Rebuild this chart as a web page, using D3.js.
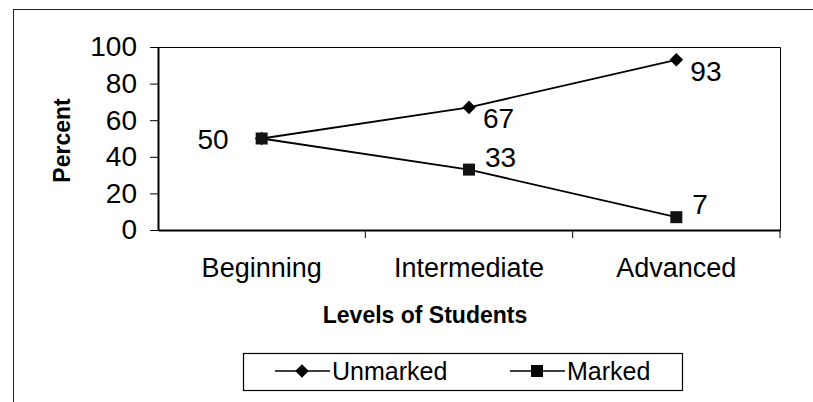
<!DOCTYPE html>
<html>
<head>
<meta charset="utf-8">
<script src="https://cdnjs.cloudflare.com/ajax/libs/d3/7.8.5/d3.min.js"></script>
<style>
  body { margin: 0; background: #fff; }
  text { font-family: "Liberation Sans", Arial, sans-serif; fill: #000; }
</style>
</head>
<body>
<div id="chart"></div>
<script>
var levels = ["Beginning", "Intermediate", "Advanced"];
var unmarked = [50, 67, 93];
var marked = [50, 33, 7];
var yTicks = [0, 20, 40, 60, 80, 100];
var seriesNames = ["Unmarked", "Marked"];

var W = 813, H = 402;
var svg = d3.select("#chart").append("svg")
    .attr("width", W)
    .attr("height", H);

// outer frame (only top and left edges show)
svg.append("line").attr("x1", 13).attr("x2", W).attr("y1", 9.5).attr("y2", 9.5)
    .attr("stroke", "#222").attr("stroke-width", 1);
svg.append("line").attr("x1", 13.5).attr("x2", 13.5).attr("y1", 9).attr("y2", H)
    .attr("stroke", "#222").attr("stroke-width", 1);

var pLeft = 158, pRight = 780, pTop = 47, pBottom = 230;

var x = d3.scaleBand().domain(levels).range([pLeft, pRight]);
var y = d3.scaleLinear().domain([0, 100]).range([pBottom, pTop]);

// plot area border (top, right)
svg.append("path")
    .attr("d", "M" + pLeft + "," + (pTop + 0.5) + "H" + (pRight + 0.5) + "V" + pBottom)
    .attr("fill", "none").attr("stroke", "#000").attr("stroke-width", 1);

// y axis
var yAxis = svg.append("g")
    .attr("transform", "translate(" + pLeft + ",0)")
    .call(d3.axisLeft(y).tickValues(yTicks).tickSize(8).tickPadding(13).tickSizeOuter(0));
yAxis.select(".domain").attr("stroke-width", 2);
yAxis.selectAll("text").attr("font-size", "28px").attr("fill", "#000")
    .attr("font-family", "Liberation Sans, Arial, sans-serif");

// x axis
var xAxis = svg.append("g")
    .attr("transform", "translate(0," + pBottom + ")")
    .call(d3.axisBottom(x).tickSize(0).tickPadding(28).tickSizeOuter(0));
xAxis.select(".domain").attr("stroke-width", 2);
xAxis.selectAll("text").attr("font-size", "27px").attr("fill", "#000")
    .attr("font-family", "Liberation Sans, Arial, sans-serif");
// category boundary ticks
svg.selectAll("line.cat-tick")
    .data(levels.slice(1).concat(["end"]))
    .enter().append("line")
    .attr("class", "cat-tick")
    .attr("x1", function(d, i) { return pLeft + (i + 1) * x.step(); })
    .attr("x2", function(d, i) { return pLeft + (i + 1) * x.step(); })
    .attr("y1", pBottom)
    .attr("y2", pBottom + 8)
    .attr("stroke", "#000");

// axis titles
svg.append("text")
    .attr("transform", "translate(70," + ((pTop + pBottom) / 2 + 2) + ") rotate(-90)")
    .attr("text-anchor", "middle")
    .attr("font-size", "23px")
    .attr("font-weight", "bold")
    .text("Percent");

svg.append("text")
    .attr("x", 425).attr("y", 323)
    .attr("text-anchor", "middle")
    .attr("font-size", "23px")
    .attr("font-weight", "bold")
    .text("Levels of Students");

var cx = function(i) { return x(levels[i]) + x.bandwidth() / 2; };
var line = d3.line()
    .x(function(d, i) { return cx(i); })
    .y(function(d) { return y(d); });

[unmarked, marked].forEach(function(s) {
    svg.append("path")
        .datum(s)
        .attr("d", line)
        .attr("fill", "none")
        .attr("stroke", "#000")
        .attr("stroke-width", 1.8);
});

// diamond = square turned 45 degrees (wider than d3's symbolDiamond)
var diamond = d3.symbol().type(d3.symbolSquare).size(92);
var square = d3.symbol().type(d3.symbolSquare).size(144);

svg.selectAll("path.um")
    .data(unmarked)
    .enter().append("path")
    .attr("class", "um")
    .attr("d", diamond)
    .attr("transform", function(d, i) { return "translate(" + cx(i) + "," + y(d) + ") rotate(45)"; })
    .attr("fill", "#000");

svg.selectAll("path.mk")
    .data(marked)
    .enter().append("path")
    .attr("class", "mk")
    .attr("d", square)
    .attr("transform", function(d, i) { return "translate(" + cx(i) + "," + y(d) + ")"; })
    .attr("fill", "#111");

// data labels
svg.append("text")
    .attr("x", cx(0) - 33).attr("y", y(marked[0]) + 10)
    .attr("text-anchor", "end")
    .attr("font-size", "28px")
    .text(marked[0]);

svg.selectAll("text.ul")
    .data(unmarked.slice(1))
    .enter().append("text")
    .attr("class", "ul")
    .attr("x", function(d, i) { return cx(i + 1) + 14; })
    .attr("y", function(d) { return y(d) + 21; })
    .attr("font-size", "28px")
    .text(function(d) { return d; });

svg.selectAll("text.ml")
    .data(marked.slice(1))
    .enter().append("text")
    .attr("class", "ml")
    .attr("x", function(d, i) { return cx(i + 1) + 16; })
    .attr("y", function(d) { return y(d) - 3; })
    .attr("font-size", "28px")
    .text(function(d) { return d; });

// legend
var lg = svg.append("g");
lg.append("rect")
    .attr("x", 243.5).attr("y", 353.5)
    .attr("width", 439).attr("height", 37)
    .attr("fill", "#fff").attr("stroke", "#000").attr("stroke-width", 1.2);

var legendX = [275, 510];
seriesNames.forEach(function(name, i) {
    var lx = legendX[i];
    lg.append("line")
        .attr("x1", lx).attr("x2", lx + 55)
        .attr("y1", 371).attr("y2", 371)
        .attr("stroke", "#000").attr("stroke-width", 1.6);
    lg.append("path")
        .attr("d", i === 0 ? diamond : square)
        .attr("transform", "translate(" + (lx + 27) + ",371)" + (i === 0 ? " rotate(45)" : ""))
        .attr("fill", "#000");
    lg.append("text")
        .attr("x", lx + 57).attr("y", 380)
        .attr("font-size", "25px")
        .text(name);
});
</script>
</body>
</html>
